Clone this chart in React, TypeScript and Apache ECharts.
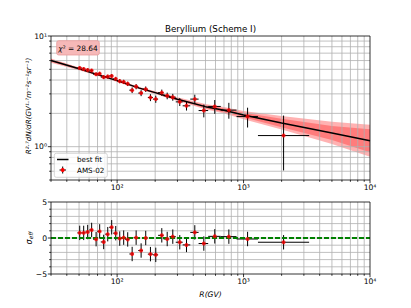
import React, { useEffect, useRef } from 'react';
import * as echarts from 'echarts';

const FONT = 'DejaVu Sans';
const GRID_COLOR = '#b0b0b0';

// AMS-02 beryllium points (rigidity in GV)
const rigidity = [50.6, 54.4, 58.5, 62.9, 68.2, 72.8, 78.3, 84.3, 90.6, 97.5, 104.9, 112.7, 121.3, 131.5, 141.4, 154.8, 168.4, 183.5, 202.2, 225.6, 248.9, 275.6, 313, 353.7, 411.5, 485, 592, 765, 1076, 2073];
const binEdges = [48.5, 52.5, 56.1, 60.3, 64.5, 69.7, 74.3, 80.5, 86.5, 93.0, 100, 108, 116, 125, 135, 147, 160, 175, 192, 211, 233, 259, 291, 330, 379, 441, 525, 660, 880, 1300, 3300];
const flux = [5.15, 5.04, 4.94, 4.87, 4.52, 4.57, 4.25, 4.30, 4.36, 4.10, 3.91, 3.85, 3.70, 3.24, 3.49, 3.05, 3.31, 2.78, 2.69, 3.08, 2.88, 2.80, 2.54, 2.34, 2.69, 2.12, 2.31, 2.14, 1.87, 1.26];
const fluxErr = [0.17, 0.17, 0.17, 0.17, 0.17, 0.17, 0.17, 0.17, 0.17, 0.17, 0.17, 0.17, 0.17, 0.19, 0.19, 0.19, 0.19, 0.2, 0.2, 0.2, 0.2, 0.2, 0.21, 0.22, 0.26, 0.28, 0.33, 0.35, 0.38, 0.65];
const residual = [0.71, 0.71, 0.83, 1.12, -0.16, 0.92, -0.55, 0.53, 1.49, 0.67, -0.08, 0.05, -0.2, -2.22, 0.05, -1.74, 0.0, -2.24, -2.34, 0.37, -0.14, 0.19, -0.59, -0.96, 0.78, -0.77, 0.23, 0.19, -0.14, -0.59];
const residualErr = [1, 1, 1, 1, 1, 1, 1, 1, 1, 1, 1, 1, 1, 1, 1, 1, 1, 1, 1, 1, 1, 1, 1, 1, 1, 1, 1, 1, 1, 1];

// best fit and its uncertainty bands
const fitR = [30, 50, 70, 100, 150, 200, 300, 500, 700, 1000, 2000, 5000, 10000];
const fitFlux = [6.0, 5.05, 4.48, 3.95, 3.38, 3.08, 2.68, 2.30, 2.13, 1.93, 1.64, 1.33, 1.13];
const innerLo = [5.85, 4.98, 4.42, 3.90, 3.34, 3.03, 2.63, 2.23, 2.05, 1.84, 1.50, 1.15, 0.89];
const innerHi = [6.15, 5.13, 4.54, 4.00, 3.42, 3.13, 2.73, 2.37, 2.22, 2.03, 1.79, 1.54, 1.44];
const outerLo = [5.74, 4.90, 4.37, 3.85, 3.30, 2.99, 2.58, 2.18, 1.99, 1.77, 1.43, 1.06, 0.81];
const outerHi = [6.27, 5.20, 4.59, 4.05, 3.46, 3.17, 2.79, 2.43, 2.28, 2.10, 1.89, 1.68, 1.58];

// ticks and grid lines
const xMajor = [100, 1000, 10000];
const xMinor = [30, 40, 50, 60, 70, 80, 90, 200, 300, 400, 500, 600, 700, 800, 900, 2000, 3000, 4000, 5000, 6000, 7000, 8000, 9000];
const xGrid = [40, 50, 60, 70, 80, 90, 100, 200, 300, 400, 500, 600, 700, 800, 900, 1000, 2000, 3000, 4000, 5000, 6000, 7000, 8000, 9000];
const yTopMajor = [1, 10];
const yTopMinor = [0.5, 0.6, 0.7, 0.8, 0.9, 2, 3, 4, 5, 6, 7, 8, 9];
const yTopGrid = [0.6, 0.7, 0.8, 0.9, 1, 2, 3, 4, 5, 6, 7, 8, 9];
const yBotMajor = [-5, 0, 5];
const yBotMinor = [-4, -3, -2, -1, 1, 2, 3, 4];
const yBotGrid = [-4, -3, -2, -1, 0, 1, 2, 3, 4];

const SUP: Record<string, string> = { '0': '⁰', '1': '¹', '2': '²', '3': '³', '4': '⁴' };

function powLabel(v: number, minExp: number) {
  const l = Math.log10(v);
  const r = Math.round(l);
  if (Math.abs(l - r) > 1e-6 || r < minExp) return '';
  return '10' + (SUP[String(r)] || String(r));
}

function gridXLines(yRef: number) {
  return (params: any, api: any) => {
    const cs = params.coordSys;
    const x = api.coord([api.value(0), yRef])[0];
    return { type: 'line', silent: true, shape: { x1: x, y1: cs.y, x2: x, y2: cs.y + cs.height }, style: { stroke: GRID_COLOR, lineWidth: 0.8 } };
  };
}
function gridYLines(xRef: number) {
  return (params: any, api: any) => {
    const cs = params.coordSys;
    const y = api.coord([xRef, api.value(1)])[1];
    return { type: 'line', silent: true, shape: { x1: cs.x, y1: y, x2: cs.x + cs.width, y2: y }, style: { stroke: GRID_COLOR, lineWidth: 0.8 } };
  };
}
function tickX(yRef: number) {
  return (params: any, api: any) => {
    const cs = params.coordSys;
    const x = api.coord([api.value(0), yRef])[0];
    const len = api.value(2) ? 3.2 : 1.8;
    const y0 = cs.y + cs.height;
    return { type: 'line', silent: true, shape: { x1: x, y1: y0, x2: x, y2: y0 + len }, style: { stroke: '#000', lineWidth: 0.8 } };
  };
}
function tickY(xRef: number) {
  return (params: any, api: any) => {
    const cs = params.coordSys;
    const y = api.coord([xRef, api.value(1)])[1];
    const len = api.value(2) ? 3.2 : 1.8;
    return { type: 'line', silent: true, shape: { x1: cs.x - len, y1: y, x2: cs.x, y2: y }, style: { stroke: '#000', lineWidth: 0.8 } };
  };
}
function frame(params: any) {
  const cs = params.coordSys;
  return { type: 'rect', silent: true, shape: { x: cs.x, y: cs.y, width: cs.width, height: cs.height }, style: { fill: 'none', stroke: '#000', lineWidth: 0.8 } };
}
function band(lo: number[], hi: number[], color: string) {
  return (params: any, api: any) => {
    if (params.dataIndex !== 0) return null;
    const pts: number[][] = [];
    for (let i = 0; i < fitR.length; i++) pts.push(api.coord([fitR[i], hi[i]]));
    for (let i = fitR.length - 1; i >= 0; i--) pts.push(api.coord([fitR[i], lo[i]]));
    return { type: 'polygon', silent: true, shape: { points: pts }, style: { fill: color } };
  };
}
function errorBars(params: any, api: any) {
  const r = api.value(0), f = api.value(1), e = api.value(2), lo = api.value(3), hi = api.value(4);
  const t = api.coord([r, f + e]);
  const b = api.coord([r, f - e]);
  const l = api.coord([lo, f]);
  const rr = api.coord([hi, f]);
  return {
    type: 'group',
    children: [
      { type: 'line', shape: { x1: t[0], y1: t[1], x2: b[0], y2: b[1] }, style: { stroke: '#000', lineWidth: 1 } },
      { type: 'line', shape: { x1: l[0], y1: l[1], x2: rr[0], y2: rr[1] }, style: { stroke: '#000', lineWidth: 1 } },
    ],
  };
}

const X_MIN = 30, X_MAX = 10000;

export default function App() {
  const ref = useRef<HTMLDivElement>(null);
  useEffect(() => {
    if (!ref.current) return;
    const chart = echarts.init(ref.current, undefined, { renderer: 'svg' });
    const labelStyle = { fontFamily: FONT, fontSize: 7.6, color: '#000' };
    const xAxisBase = (gridIndex: number) => ({
      type: 'log', logBase: 10, gridIndex, min: X_MIN, max: X_MAX,
      axisLine: { show: false }, axisTick: { show: false }, splitLine: { show: false },
      axisLabel: { ...labelStyle, margin: 3.5, showMinLabel: true, showMaxLabel: true, formatter: (v: number) => powLabel(v, 2) },
    });
    const topX = 1; const botY = 0; const refX = 100;
    const tickDataX = (yRef: number) => [
      ...xMajor.map((v) => [v, yRef, 1]),
      ...xMinor.map((v) => [v, yRef, 0]),
    ];
    const option: any = {
      animation: false,
      grid: [
        { left: 51, top: 36, width: 319, height: 144 },
        { left: 51, top: 202, width: 319, height: 72 },
      ],
      xAxis: [xAxisBase(0), xAxisBase(1)],
      yAxis: [
        {
          type: 'log', logBase: 10, gridIndex: 0, min: 0.5, max: 10,
          axisLine: { show: false }, axisTick: { show: false }, splitLine: { show: false },
          axisLabel: { ...labelStyle, margin: 4, showMinLabel: true, showMaxLabel: true, formatter: (v: number) => powLabel(v, 0) },
        },
        {
          type: 'value', gridIndex: 1, min: -5, max: 5, interval: 5,
          axisLine: { show: false }, axisTick: { show: false }, splitLine: { show: false },
          axisLabel: { ...labelStyle, margin: 4, formatter: (v: number) => (v < 0 ? '\u2212' + Math.abs(v) : String(v)) },
        },
      ],
      series: [
        // top panel
        { type: 'custom', xAxisIndex: 0, yAxisIndex: 0, z: 1, renderItem: band(outerLo, outerHi, 'rgba(255,0,0,0.3)'), data: fitR.map((r, i) => [r, fitFlux[i]]) },
        { type: 'custom', xAxisIndex: 0, yAxisIndex: 0, z: 1, renderItem: band(innerLo, innerHi, 'rgba(255,0,0,0.3)'), data: fitR.map((r, i) => [r, fitFlux[i]]) },
        { type: 'custom', xAxisIndex: 0, yAxisIndex: 0, z: 2, renderItem: gridXLines(topX), data: xGrid.map((v) => [v, topX]) },
        { type: 'custom', xAxisIndex: 0, yAxisIndex: 0, z: 2, renderItem: gridYLines(refX), data: yTopGrid.map((v) => [refX, v]) },
        { type: 'line', xAxisIndex: 0, yAxisIndex: 0, z: 3, showSymbol: false, symbol: 'none', lineStyle: { color: '#000', width: 1.5 }, data: fitR.map((r, i) => [r, fitFlux[i]]) },
        { type: 'custom', xAxisIndex: 0, yAxisIndex: 0, z: 4, renderItem: errorBars, data: rigidity.map((r, i) => [r, flux[i], fluxErr[i], binEdges[i], binEdges[i + 1]]) },
        { type: 'scatter', xAxisIndex: 0, yAxisIndex: 0, z: 5, symbol: 'circle', symbolSize: 4, itemStyle: { color: '#ff0000' }, data: rigidity.map((r, i) => [r, flux[i]]) },
        { type: 'custom', xAxisIndex: 0, yAxisIndex: 0, z: 6, renderItem: tickX(topX), data: tickDataX(topX) },
        { type: 'custom', xAxisIndex: 0, yAxisIndex: 0, z: 6, renderItem: tickY(refX), data: [...yTopMajor.map((v) => [refX, v, 1]), ...yTopMinor.map((v) => [refX, v, 0])] },
        { type: 'custom', xAxisIndex: 0, yAxisIndex: 0, z: 7, renderItem: frame, data: [[refX, topX]] },
        // bottom panel
        { type: 'custom', xAxisIndex: 1, yAxisIndex: 1, z: 2, renderItem: gridXLines(botY), data: xGrid.map((v) => [v, botY]) },
        { type: 'custom', xAxisIndex: 1, yAxisIndex: 1, z: 2, renderItem: gridYLines(refX), data: yBotGrid.map((v) => [refX, v]) },
        { type: 'custom', xAxisIndex: 1, yAxisIndex: 1, z: 4, renderItem: errorBars, data: rigidity.map((r, i) => [r, residual[i], residualErr[i], binEdges[i], binEdges[i + 1]]) },
        { type: 'line', xAxisIndex: 1, yAxisIndex: 1, z: 4.5, showSymbol: false, symbol: 'none', lineStyle: { color: '#008000', width: 1.8, type: [5, 2] }, data: [[X_MIN, 0], [X_MAX, 0]] },
        { type: 'scatter', xAxisIndex: 1, yAxisIndex: 1, z: 5, symbol: 'circle', symbolSize: 4, itemStyle: { color: '#ff0000' }, data: rigidity.map((r, i) => [r, residual[i]]) },
        { type: 'custom', xAxisIndex: 1, yAxisIndex: 1, z: 6, renderItem: tickX(botY), data: tickDataX(botY) },
        { type: 'custom', xAxisIndex: 1, yAxisIndex: 1, z: 6, renderItem: tickY(refX), data: [...yBotMajor.map((v) => [refX, v, 1]), ...yBotMinor.map((v) => [refX, v, 0])] },
        { type: 'custom', xAxisIndex: 1, yAxisIndex: 1, z: 7, renderItem: frame, data: [[refX, botY]] },
      ],
      graphic: [
        { type: 'text', z: 100, x: 210.5, y: 29, style: { text: 'Beryllium (Scheme I)', fontFamily: FONT, fontSize: 8.7, fill: '#000', align: 'center', verticalAlign: 'middle', textAlign: 'center', textVerticalAlign: 'middle' } },
        // chi2 box
        { type: 'rect', z: 100, shape: { x: 56.7, y: 40.7, width: 42.6, height: 14.3, r: 2 }, style: { fill: '#f6b8b8', stroke: '#e99c9c', lineWidth: 0.8 } },
        { type: 'text', z: 101, x: 78, y: 48, style: { text: '{i|χ}{n|² = 28.64}', rich: { i: { fontFamily: FONT, fontSize: 7.4, fontStyle: 'italic', fill: '#000' }, n: { fontFamily: FONT, fontSize: 7.4, fill: '#000' } }, fontFamily: FONT, fontSize: 7.4, fill: '#000', align: 'center', verticalAlign: 'middle', textAlign: 'center', textVerticalAlign: 'middle' } },
        // legend
        { type: 'rect', z: 100, shape: { x: 54.3, y: 153.3, width: 53, height: 24, r: 2 }, style: { fill: 'rgba(255,255,255,0.8)', stroke: '#cccccc', lineWidth: 0.8 } },
        { type: 'line', z: 101, shape: { x1: 57, y1: 159.5, x2: 68.5, y2: 159.5 }, style: { stroke: '#000', lineWidth: 1.5 } },
        { type: 'text', z: 101, x: 77, y: 159.5, style: { text: 'best fit', fontFamily: FONT, fontSize: 7.2, fill: '#000', align: 'left', verticalAlign: 'middle', textAlign: 'left', textVerticalAlign: 'middle' } },
        { type: 'line', z: 101, shape: { x1: 62.7, y1: 166.5, x2: 62.7, y2: 173.5 }, style: { stroke: '#000', lineWidth: 1 } },
        { type: 'line', z: 101, shape: { x1: 59.5, y1: 170, x2: 66, y2: 170 }, style: { stroke: '#000', lineWidth: 1 } },
        { type: 'circle', z: 102, shape: { cx: 62.7, cy: 170, r: 2 }, style: { fill: '#ff0000' } },
        { type: 'text', z: 101, x: 77, y: 170.3, style: { text: 'AMS-02', fontFamily: FONT, fontSize: 7.2, fill: '#000', align: 'left', verticalAlign: 'middle', textAlign: 'left', textVerticalAlign: 'middle' } },
        // axis names
        { type: 'text', z: 100, x: 28, y: 106, rotation: Math.PI / 2, style: { text: 'R²·⁷dN/dR(GV¹·⁷m⁻²s⁻¹sr⁻¹)', fontFamily: FONT, fontSize: 7.2, fontStyle: 'italic', fill: '#000', align: 'center', verticalAlign: 'middle', textAlign: 'center', textVerticalAlign: 'middle' } },
        { type: 'text', z: 100, x: 29, y: 238, rotation: Math.PI / 2, style: { text: '{a|σ}{b|eff}', rich: { a: { fontFamily: FONT, fontSize: 8, fontStyle: 'italic', fill: '#000' }, b: { fontFamily: FONT, fontSize: 5.8, fontStyle: 'italic', fill: '#000', padding: [4, 0, 0, 0] } }, fontFamily: FONT, fontSize: 8, fill: '#000', align: 'center', verticalAlign: 'middle', textAlign: 'center', textVerticalAlign: 'middle' } },
        { type: 'text', z: 100, x: 210.5, y: 294, style: { text: 'R(GV)', fontFamily: FONT, fontSize: 7.6, fontStyle: 'italic', fill: '#000', align: 'center', verticalAlign: 'middle', textAlign: 'center', textVerticalAlign: 'middle' } },
      ],
    };
    chart.setOption(option);
    return () => chart.dispose();
  }, []);
  return <div ref={ref} style={{ position: 'fixed', left: 0, top: 0, width: 411, height: 308, background: '#fff' }} />;
}
